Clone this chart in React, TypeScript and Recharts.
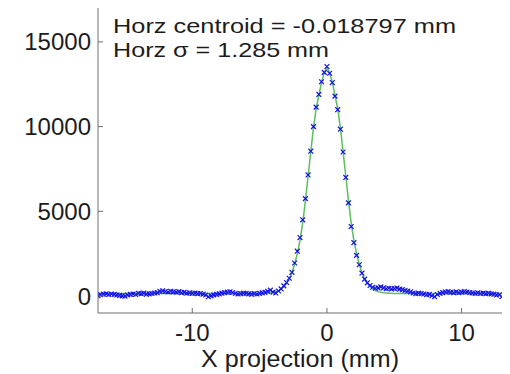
import { Line, LineChart, XAxis, YAxis } from 'recharts';

// horizontal beam profile, sampled every 0.2 mm
const xPositions = [
  -17, -16.8, -16.6, -16.4, -16.2, -16, -15.8, -15.6, -15.4, -15.2,
  -15, -14.8, -14.6, -14.4, -14.2, -14, -13.8, -13.6, -13.4, -13.2,
  -13, -12.8, -12.6, -12.4, -12.2, -12, -11.8, -11.6, -11.4, -11.2,
  -11, -10.8, -10.6, -10.4, -10.2, -10, -9.8, -9.6, -9.4, -9.2,
  -9, -8.8, -8.6, -8.4, -8.2, -8, -7.8, -7.6, -7.4, -7.2,
  -7, -6.8, -6.6, -6.4, -6.2, -6, -5.8, -5.6, -5.4, -5.2,
  -5, -4.8, -4.6, -4.4, -4.2, -4, -3.8, -3.6, -3.4, -3.2,
  -3, -2.8, -2.6, -2.4, -2.2, -2, -1.8, -1.6, -1.4, -1.2,
  -1, -0.8, -0.6, -0.4, -0.2, 0, 0.2, 0.4, 0.6, 0.8,
  1, 1.2, 1.4, 1.6, 1.8, 2, 2.2, 2.4, 2.6, 2.8,
  3, 3.2, 3.4, 3.6, 3.8, 4, 4.2, 4.4, 4.6, 4.8,
  5, 5.2, 5.4, 5.6, 5.8, 6, 6.2, 6.4, 6.6, 6.8,
  7, 7.2, 7.4, 7.6, 7.8, 8, 8.2, 8.4, 8.6, 8.8,
  9, 9.2, 9.4, 9.6, 9.8, 10, 10.2, 10.4, 10.6, 10.8,
  11, 11.2, 11.4, 11.6, 11.8, 12, 12.2, 12.4, 12.6, 12.8,
  13,
];

const measured = [
  20, 80, 110, 130, 90, 120, 100, 60, 40, 10,
  0, 60, 100, 120, 90, 160, 140, 170, 110, 130,
  150, 180, 200, 280, 310, 270, 240, 280, 250, 230,
  260, 200, 220, 170, 190, 160, 170, 140, 150, 110,
  60, -40, 10, 70, 100, 130, 170, 200, 230, 250,
  210, 150, 120, 140, 170, 160, 130, 110, 140, 120,
  160, 190, 220, 280, 350, 230, 180, 300, 420, 600,
  800, 1050, 1400, 1950, 2650, 3450, 4500, 5750, 7150, 8550,
  10000, 11150, 11900, 12650, 13200, 13550, 13150, 12600, 11800, 11000,
  9850, 8500, 7000, 5500, 4100, 3150, 2400, 1850, 1350, 1000,
  780, 620, 520, 460, 480, 540, 480, 430, 460, 420,
  440, 470, 410, 380, 330, 300, 250, 180, 140, 170,
  150, 120, 80, 100, 20, -40, 90, 160, 200, 240,
  260, 220, 200, 250, 200, 230, 260, 240, 200, 180,
  160, 190, 150, 170, 140, 160, 130, 110, 60, 80,
  -40,
];

const fitted = [
  155, 155, 155, 155, 155, 155, 155, 155, 155, 155,
  155, 155, 155, 155, 155, 155, 155, 155, 155, 155,
  155, 155, 155, 155, 155, 155, 155, 155, 155, 155,
  155, 155, 155, 155, 155, 155, 155, 155, 155, 155,
  155, 155, 155, 155, 155, 155, 155, 155, 155, 155,
  155, 155, 155, 155, 155, 155, 155, 155, 155, 155,
  155, 160, 168, 180, 195, 220, 260, 320, 420, 560,
  750, 1000, 1370, 1880, 2500, 3280, 4300, 5620, 7070, 8520,
  9920, 11070, 11850, 12620, 13170, 13500, 13170, 12620, 11850, 11070,
  9920, 8520, 7070, 5620, 4300, 3280, 2500, 1880, 1370, 1000,
  750, 560, 420, 320, 260, 220, 195, 180, 168, 160,
  155, 155, 155, 155, 155, 155, 155, 155, 155, 155,
  155, 155, 155, 155, 155, 155, 155, 155, 155, 155,
  155, 155, 155, 155, 155, 155, 155, 155, 155, 155,
  155, 155, 155, 155, 155, 155, 155, 155, 155, 155,
  155,
];

const xTicks = [-10, 0, 10];
const yTicks = [0, 5000, 10000, 15000];
const centroidText = 'Horz centroid = -0.018797 mm';
const sigmaText = 'Horz σ = 1.285 mm';
const xLabel = 'X projection (mm)';

const data = xPositions.map((x, i) => ({ x, measured: measured[i], fitted: fitted[i] }));

const FONT = '"Liberation Sans", Arial, sans-serif';
const AXIS = '#6e6e6e';
const INK = '#1c1c1c';
const TICK = 5;

const LeftTick = ({ x, y, payload }: any) => (
  <g>
    <line x1={x + 7} x2={x + 7 + TICK} y1={y} y2={y} stroke={AXIS} />
    <text x={x} y={y} dy="0.355em" textAnchor="end" fontSize={24} fontFamily={FONT} fill={INK}>
      {payload.value}
    </text>
  </g>
);

const BottomTick = ({ x, y, payload }: any) => (
  <g>
    <line x1={x} x2={x} y1={y - 11} y2={y - 11 - TICK} stroke={AXIS} />
    <text x={x} y={y} dy="0.71em" textAnchor="middle" fontSize={24} fontFamily={FONT} fill={INK}>
      {payload.value}
    </text>
  </g>
);

const TopTick = ({ x, y }: any) => <line x1={x} x2={x} y1={y} y2={y + TICK} stroke={AXIS} />;

const RightTick = ({ x, y }: any) => <line x1={x} x2={x - TICK} y1={y} y2={y} stroke={AXIS} />;

const Cross = ({ cx, cy, index }: any) => {
  if (cx == null || cy == null) return <g key={index} />;
  const s = 2.4;
  return (
    <path
      key={index}
      d={`M${cx - s},${cy - s}L${cx + s},${cy + s}M${cx - s},${cy + s}L${cx + s},${cy - s}`}
      stroke="#1414e6"
      strokeWidth={1.2}
      fill="none"
    />
  );
};

export default function App() {
  return (
    <div style={{ position: 'fixed', left: 0, top: 0, width: 510, height: 374, background: '#fff' }}>
      <LineChart width={510} height={374} data={data} margin={{ top: 8, right: 8, bottom: 0, left: 0 }}>
        <XAxis
          dataKey="x"
          type="number"
          domain={[-17, 13]}
          ticks={xTicks}
          allowDataOverflow
          height={61}
          stroke={AXIS}
          tickSize={0}
          tickMargin={11}
          tick={<BottomTick />}
        />
        <XAxis
          xAxisId="top"
          orientation="top"
          dataKey="x"
          type="number"
          domain={[-17, 13]}
          ticks={xTicks}
          allowDataOverflow
          height={0}
          stroke={AXIS}
          tickSize={0}
          tickMargin={0}
          tick={<TopTick />}
        />
        <YAxis
          type="number"
          domain={[-1000, 17000]}
          ticks={yTicks}
          allowDataOverflow
          width={98}
          stroke={AXIS}
          tickSize={0}
          tickMargin={7}
          tick={<LeftTick />}
        />
        <YAxis
          yAxisId="right"
          orientation="right"
          type="number"
          domain={[-1000, 17000]}
          ticks={yTicks}
          allowDataOverflow
          width={0}
          stroke={AXIS}
          tickSize={0}
          tickMargin={0}
          tick={<RightTick />}
        />
        <Line dataKey="fitted" stroke="#5cbf5c" strokeWidth={1.5} dot={false} isAnimationActive={false} />
        <Line dataKey="measured" stroke="none" dot={Cross} activeDot={false} isAnimationActive={false} />
      </LineChart>
      <svg width={510} height={374} style={{ position: 'absolute', left: 0, top: 0, pointerEvents: 'none' }}>
        <text x={113} y={33} fontSize={21} fontFamily={FONT} fill={INK} textLength={343} lengthAdjust="spacingAndGlyphs">
          {centroidText}
        </text>
        <text x={113} y={57} fontSize={21} fontFamily={FONT} fill={INK} textLength={216} lengthAdjust="spacingAndGlyphs">
          {sigmaText}
        </text>
        <text x={300} y={367} fontSize={23} fontFamily={FONT} fill={INK} textAnchor="middle" textLength={198} lengthAdjust="spacingAndGlyphs">
          {xLabel}
        </text>
      </svg>
    </div>
  );
}
